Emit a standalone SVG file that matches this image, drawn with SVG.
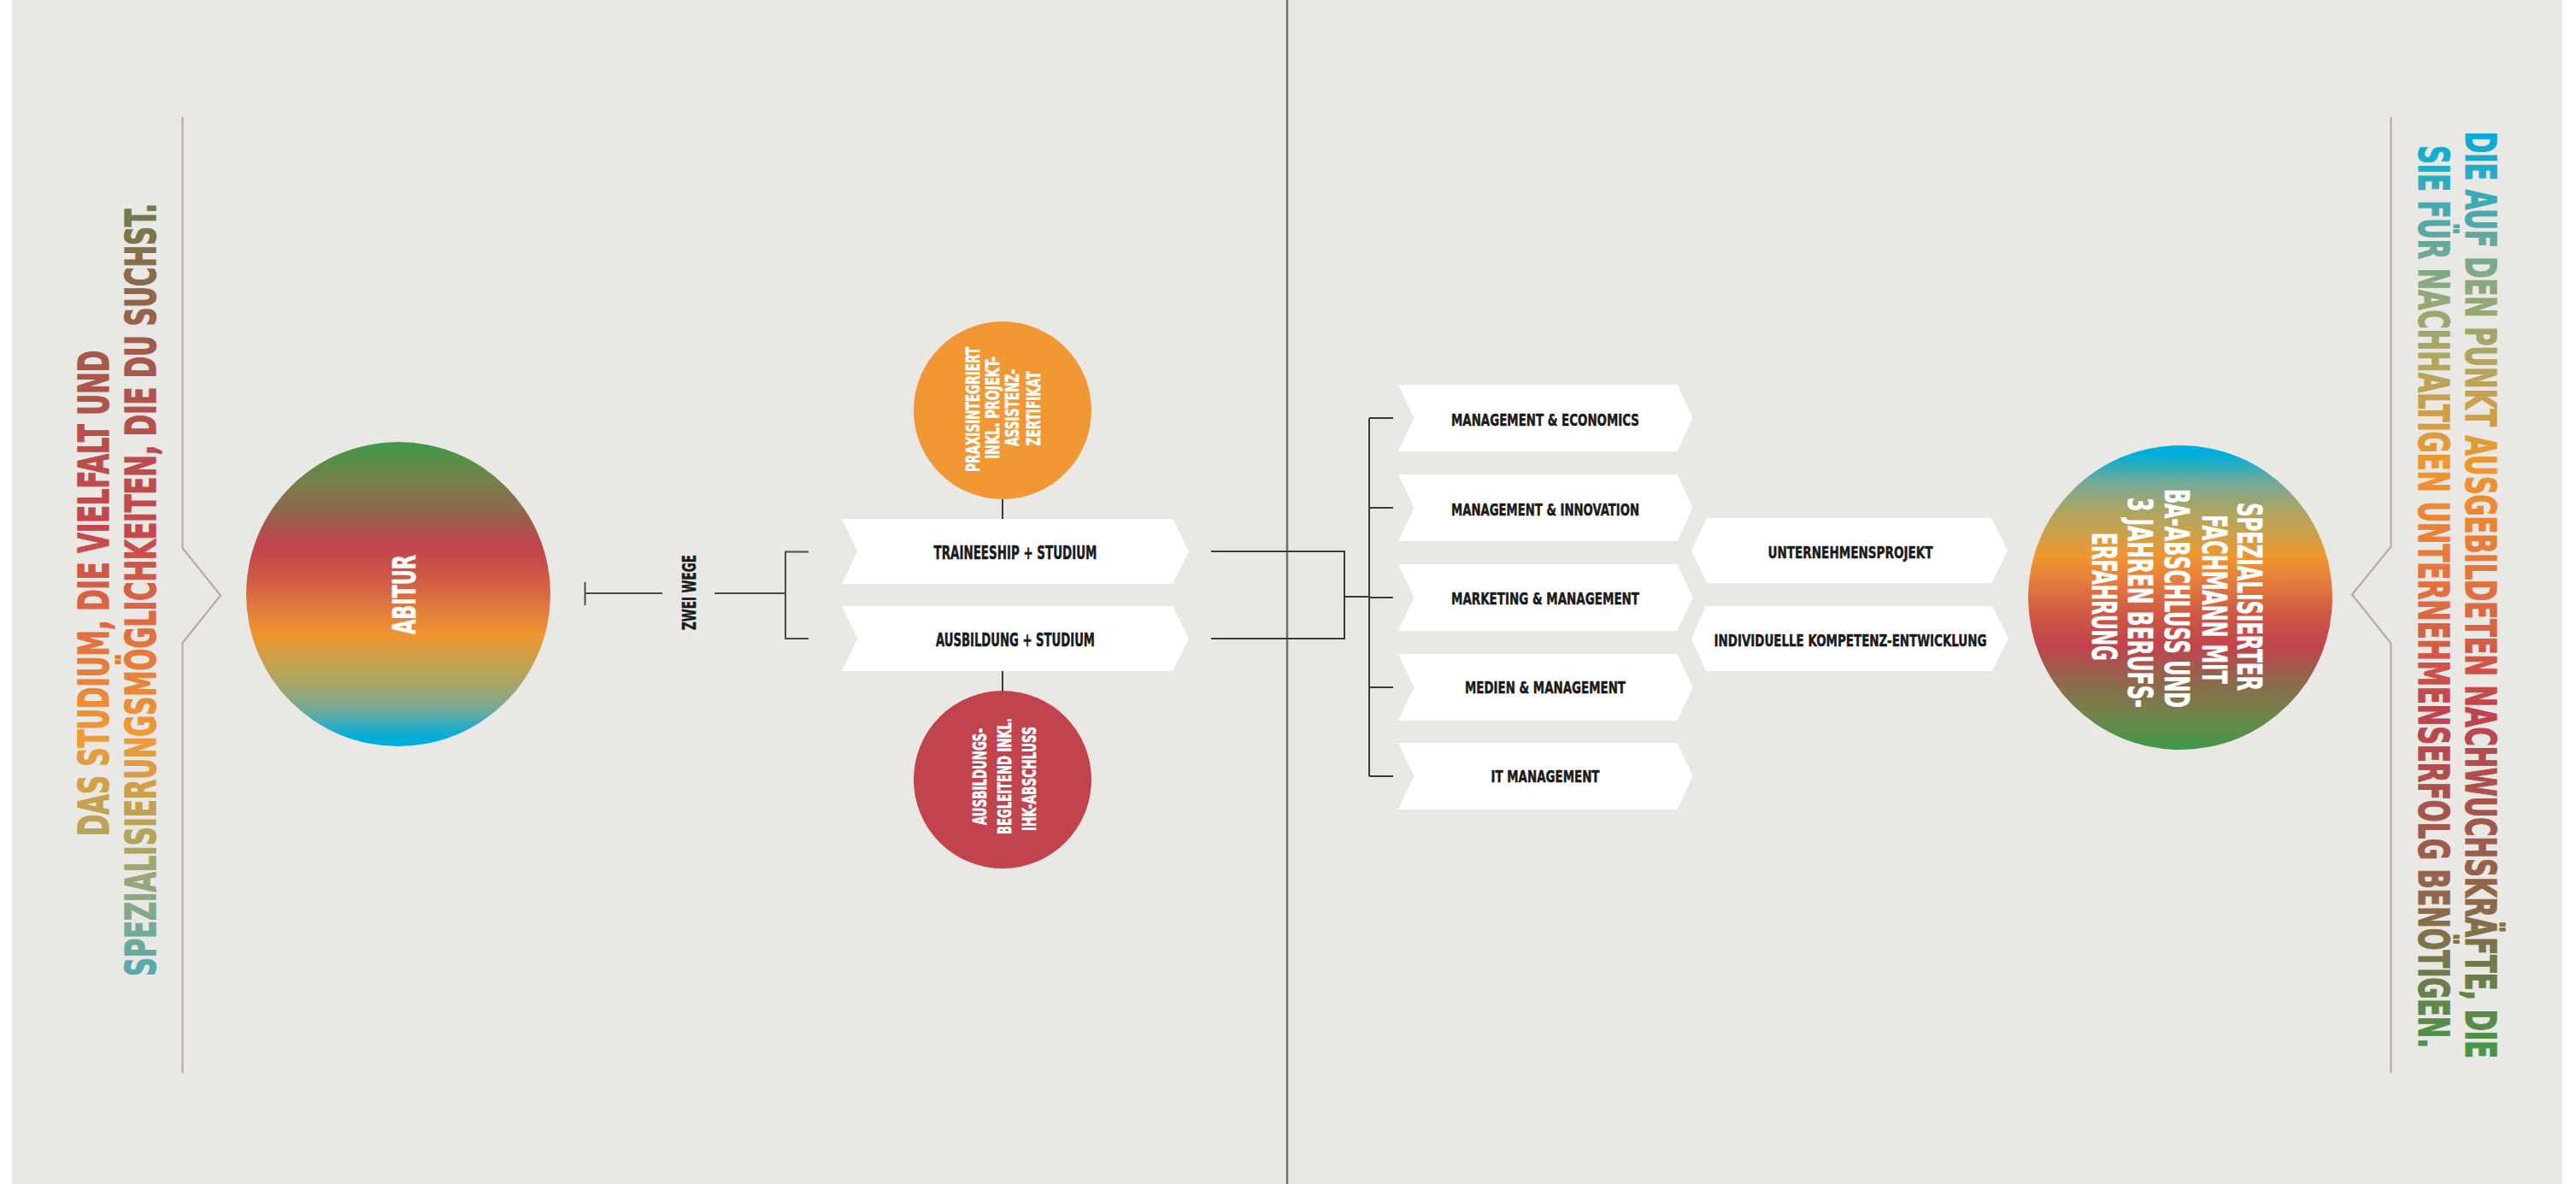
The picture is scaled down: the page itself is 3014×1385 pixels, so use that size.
<svg xmlns="http://www.w3.org/2000/svg" width="3014" height="1385" viewBox="0 0 3014 1385">
<style>
.lbl{font-family:"Liberation Sans Narrow","DejaVu Sans Condensed","Liberation Sans",sans-serif;font-weight:bold;fill:#1b1b1b;stroke:#1b1b1b;stroke-width:0.5;text-anchor:middle}
.wt{font-family:"Liberation Sans Narrow","DejaVu Sans Condensed","Liberation Sans",sans-serif;font-weight:bold;fill:#ffffff;stroke:#ffffff;stroke-width:0.6;text-anchor:middle}
.head{font-family:"Liberation Sans Narrow","DejaVu Sans Condensed","Liberation Sans",sans-serif;font-weight:bold;font-size:49px;stroke-width:1.3;text-anchor:middle}
.box{fill:#ffffff}
.con{fill:none;stroke:#3a3a3a;stroke-width:2}
.brk{fill:none;stroke:#b6ada5;stroke-width:2.2}
</style>
<defs>
<linearGradient id="gLeft" gradientUnits="userSpaceOnUse" x1="-1145" y1="0" x2="-235" y2="0">
<stop offset="0" stop-color="#52a9b0"/>
<stop offset="0.104" stop-color="#8ea883"/>
<stop offset="0.181" stop-color="#b2a45c"/>
<stop offset="0.313" stop-color="#f09a35"/>
<stop offset="0.467" stop-color="#dc6a42"/>
<stop offset="0.577" stop-color="#c4464e"/>
<stop offset="0.709" stop-color="#b6504d"/>
<stop offset="0.797" stop-color="#a5594c"/>
<stop offset="0.896" stop-color="#8b6a4b"/>
<stop offset="1" stop-color="#6b7e4a"/>
</linearGradient>
<linearGradient id="gRight" gradientUnits="userSpaceOnUse" x1="150" y1="0" x2="1240" y2="0">
<stop offset="0" stop-color="#00aedb"/>
<stop offset="0.092" stop-color="#4aa9ae"/>
<stop offset="0.165" stop-color="#8aa880"/>
<stop offset="0.266" stop-color="#b8a458"/>
<stop offset="0.362" stop-color="#f0962f"/>
<stop offset="0.505" stop-color="#df6e41"/>
<stop offset="0.624" stop-color="#c0434d"/>
<stop offset="0.743" stop-color="#a3574c"/>
<stop offset="0.835" stop-color="#8b6a4b"/>
<stop offset="0.917" stop-color="#6a7e4a"/>
<stop offset="1" stop-color="#429a4a"/>
</linearGradient>
<linearGradient id="gAbitur" x1="0" y1="0" x2="0" y2="1">
<stop offset="0" stop-color="#3f9a4a"/>
<stop offset="0.13" stop-color="#76804b"/>
<stop offset="0.225" stop-color="#8e684c"/>
<stop offset="0.337" stop-color="#c0434d"/>
<stop offset="0.45" stop-color="#cf5a44"/>
<stop offset="0.55" stop-color="#e27c3e"/>
<stop offset="0.635" stop-color="#f0962f"/>
<stop offset="0.72" stop-color="#c8a24e"/>
<stop offset="0.795" stop-color="#a8a666"/>
<stop offset="0.88" stop-color="#72a999"/>
<stop offset="0.97" stop-color="#00aedb"/>
<stop offset="1" stop-color="#00aedb"/>
</linearGradient>
<linearGradient id="gFach" x1="0" y1="0" x2="0" y2="1">
<stop offset="0" stop-color="#00aedb"/>
<stop offset="0.03" stop-color="#00aedb"/>
<stop offset="0.12" stop-color="#72a999"/>
<stop offset="0.205" stop-color="#a8a666"/>
<stop offset="0.28" stop-color="#c8a24e"/>
<stop offset="0.365" stop-color="#f0962f"/>
<stop offset="0.45" stop-color="#e27c3e"/>
<stop offset="0.55" stop-color="#cf5a44"/>
<stop offset="0.663" stop-color="#c0434d"/>
<stop offset="0.775" stop-color="#8e684c"/>
<stop offset="0.87" stop-color="#76804b"/>
<stop offset="1" stop-color="#3f9a4a"/>
</linearGradient>
</defs>

<rect x="0" y="0" width="3014" height="1385" fill="#ffffff"/>
<rect x="14" y="0" width="2984" height="1385" fill="#e9e8e4"/>
<line x1="1506" y1="0" x2="1506" y2="1385" stroke="#6e6e6a" stroke-width="2.5"/>

<g id="heading-left">
<polyline class="brk" points="213.5,137 213.5,641 258,696.5 213.5,752 213.5,1255"/>
<g transform="rotate(-90)" fill="url(#gLeft)" stroke="url(#gLeft)">
<text class="head" x="-694" y="127" textLength="568" lengthAdjust="spacingAndGlyphs">DAS STUDIUM, DIE VIELFALT UND</text>
<text class="head" x="-690" y="182" textLength="904" lengthAdjust="spacingAndGlyphs">SPEZIALISIERUNGSMÖGLICHKEITEN, DIE DU SUCHST.</text>
</g>
</g>

<g id="heading-right">
<polyline class="brk" points="2797.5,137 2797.5,639.5 2752,695.5 2797.5,752.5 2797.5,1255"/>
<g transform="rotate(90)" fill="url(#gRight)" stroke="url(#gRight)">
<text class="head" x="696" y="-2885" textLength="1084" lengthAdjust="spacingAndGlyphs">DIE AUF DEN PUNKT AUSGEBILDETEN NACHWUCHSKRÄFTE, DIE</text>
<text class="head" x="698" y="-2830" textLength="1056" lengthAdjust="spacingAndGlyphs">SIE FÜR NACHHALTIGEN UNTERNEHMENSERFOLG BENÖTIGEN.</text>
</g>
</g>

<g id="connectors">
<path d="M684.5,681 V708 M684.5,694 H775 M836,694 H919 M946,645.5 H919 V747 H946" fill="none" stroke="#4a4a4a" stroke-width="2"/>
<path class="con" d="M1173,583 V607 M1173,785 V809"/>
<path class="con" d="M1417,645 H1573 V747 H1417 M1573,698 H1602"/>
<path class="con" d="M1602,489 V908 M1602,489 H1630 M1602,594 H1630 M1602,699 H1630 M1602,804 H1630 M1602,908 H1630"/>
</g>

<g id="node-abitur">
<circle cx="466" cy="695" r="178" fill="url(#gAbitur)"/>
<text class="wt" font-size="37" transform="translate(486,695.5) rotate(-90)" textLength="93" lengthAdjust="spacingAndGlyphs">ABITUR</text>
</g>

<g id="node-zwei-wege">
<text class="lbl" font-size="22" transform="translate(814,693) rotate(-90)" textLength="88" lengthAdjust="spacingAndGlyphs">ZWEI WEGE</text>
</g>

<g id="node-praxis">
<circle cx="1173" cy="480" r="104" fill="#f19834"/>
<text class="wt" font-size="22" transform="translate(1146,479) rotate(-90)" textLength="146" lengthAdjust="spacingAndGlyphs">PRAXISINTEGRIERT</text>
<text class="wt" font-size="22" transform="translate(1169,477) rotate(-90)" textLength="120" lengthAdjust="spacingAndGlyphs">INKL. PROJEKT-</text>
<text class="wt" font-size="22" transform="translate(1192,477) rotate(-90)" textLength="90" lengthAdjust="spacingAndGlyphs">ASSISTENZ-</text>
<text class="wt" font-size="22" transform="translate(1217,478) rotate(-90)" textLength="87" lengthAdjust="spacingAndGlyphs">ZERTIFIKAT</text>
</g>

<g id="node-ausbildungsbegleitend">
<circle cx="1173" cy="912" r="104" fill="#c0434d"/>
<text class="wt" font-size="22" transform="translate(1153.5,908.5) rotate(-90)" textLength="113" lengthAdjust="spacingAndGlyphs">AUSBILDUNGS-</text>
<text class="wt" font-size="22" transform="translate(1183,908) rotate(-90)" textLength="136" lengthAdjust="spacingAndGlyphs">BEGLEITEND INKL.</text>
<text class="wt" font-size="22" transform="translate(1212,911) rotate(-90)" textLength="122" lengthAdjust="spacingAndGlyphs">IHK-ABSCHLUSS</text>
</g>

<g id="node-traineeship">
<path class="box" d="M985,607 H1372 L1391,645 L1372,683 H985 L1003.5,645 Z"/>
<text class="lbl" font-size="21" x="1188" y="653.5" textLength="191" lengthAdjust="spacingAndGlyphs">TRAINEESHIP + STUDIUM</text>
</g>

<g id="node-ausbildung">
<path class="box" d="M985,709 H1372 L1391,747 L1372,785 H985 L1003.5,747 Z"/>
<text class="lbl" font-size="21" x="1188" y="755.5" textLength="186" lengthAdjust="spacingAndGlyphs">AUSBILDUNG + STUDIUM</text>
</g>

<g id="node-economics">
<path class="box" d="M1636,450 H1962.5 L1980.5,489 L1962.5,528 H1636 L1654.5,489 Z"/>
<text class="lbl" font-size="20" x="1808" y="497.5" textLength="220" lengthAdjust="spacingAndGlyphs">MANAGEMENT &amp; ECONOMICS</text>
</g>

<g id="node-innovation">
<path class="box" d="M1636,555 H1962.5 L1980.5,594 L1962.5,633 H1636 L1654.5,594 Z"/>
<text class="lbl" font-size="20" x="1808" y="602.5" textLength="220" lengthAdjust="spacingAndGlyphs">MANAGEMENT &amp; INNOVATION</text>
</g>

<g id="node-marketing">
<path class="box" d="M1636,660 H1962.5 L1980.5,699 L1962.5,738 H1636 L1654.5,699 Z"/>
<text class="lbl" font-size="20" x="1808" y="706.5" textLength="220" lengthAdjust="spacingAndGlyphs">MARKETING &amp; MANAGEMENT</text>
</g>

<g id="node-medien">
<path class="box" d="M1636,765 H1962.5 L1980.5,804 L1962.5,843 H1636 L1654.5,804 Z"/>
<text class="lbl" font-size="20" x="1808" y="811" textLength="188" lengthAdjust="spacingAndGlyphs">MEDIEN &amp; MANAGEMENT</text>
</g>

<g id="node-it">
<path class="box" d="M1636,869 H1962.5 L1980.5,908 L1962.5,947 H1636 L1654.5,908 Z"/>
<text class="lbl" font-size="20" x="1808" y="915" textLength="127" lengthAdjust="spacingAndGlyphs">IT MANAGEMENT</text>
</g>

<g id="node-unternehmensprojekt">
<path class="box" d="M1979,644 L1997,606 H2330 L2349,644 L2330,682 H1997 Z"/>
<text class="lbl" font-size="20" x="2165" y="652.5" textLength="193" lengthAdjust="spacingAndGlyphs">UNTERNEHMENSPROJEKT</text>
</g>

<g id="node-kompetenz">
<path class="box" d="M1979,747 L1996,709 H2331 L2350,747 L2331,785 H1996 Z"/>
<text class="lbl" font-size="20" x="2165" y="755.5" textLength="319" lengthAdjust="spacingAndGlyphs">INDIVIDUELLE KOMPETENZ-ENTWICKLUNG</text>
</g>

<g id="node-fachmann">
<circle cx="2551" cy="699" r="178" fill="url(#gFach)"/>
<text class="wt" font-size="39" transform="translate(2618,698) rotate(90)" textLength="220" lengthAdjust="spacingAndGlyphs">SPEZIALISIERTER</text>
<text class="wt" font-size="39" transform="translate(2576.5,701) rotate(90)" textLength="198" lengthAdjust="spacingAndGlyphs">FACHMANN MIT</text>
<text class="wt" font-size="39" transform="translate(2533,700) rotate(90)" textLength="256" lengthAdjust="spacingAndGlyphs">BA-ABSCHLUSS UND</text>
<text class="wt" font-size="39" transform="translate(2490,705) rotate(90)" textLength="246" lengthAdjust="spacingAndGlyphs">3 JAHREN BERUFS-</text>
<text class="wt" font-size="39" transform="translate(2447.5,698) rotate(90)" textLength="150" lengthAdjust="spacingAndGlyphs">ERFAHRUNG</text>
</g>
</svg>
